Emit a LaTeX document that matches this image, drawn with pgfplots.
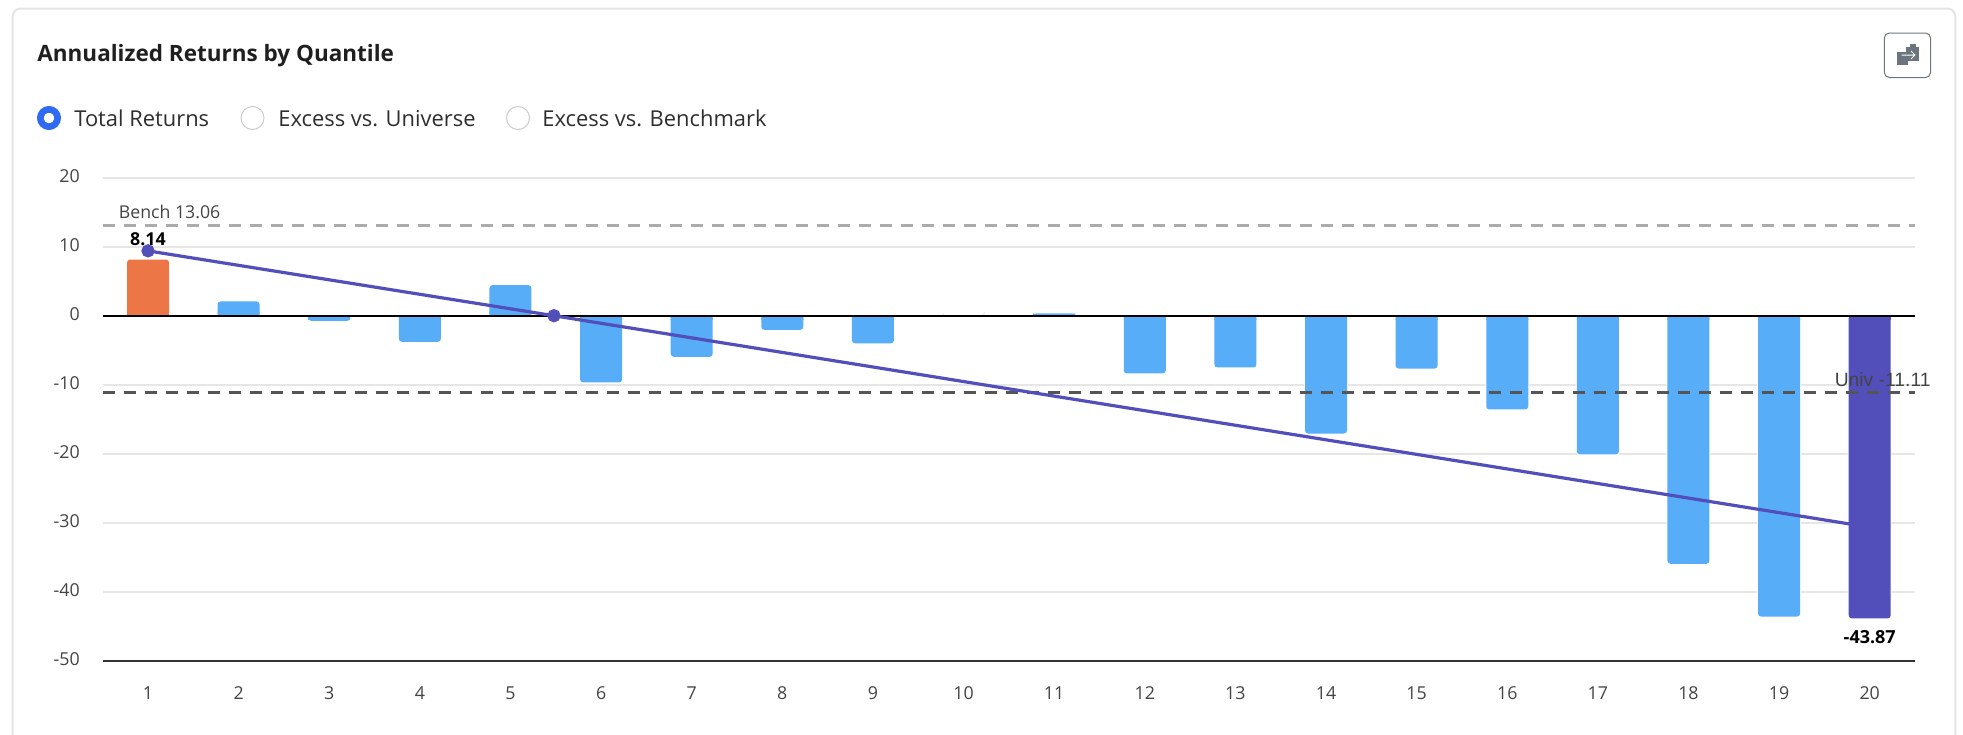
\documentclass[border=0pt]{standalone}
\usepackage{fontspec}
\setmainfont{Open Sans}
\newfontfamily\arialfont{Liberation Sans}
\usepackage{pgfplots}
\usepackage{pgfplotstable}
\pgfplotsset{compat=1.18}

\definecolor{barblue}{HTML}{57ADF8}
\definecolor{barorange}{HTML}{ED7647}
\definecolor{barpurple}{HTML}{524FBB}
\definecolor{gridgray}{HTML}{E6E6E6}
\definecolor{benchgray}{HTML}{ABABAB}
\definecolor{univgray}{HTML}{555555}
\definecolor{labelgray}{HTML}{444444}
\definecolor{cardgray}{HTML}{E4E4E4}
\definecolor{radiogray}{HTML}{CCCCCC}
\definecolor{radioblue}{HTML}{2F6BF2}
\definecolor{btngray}{HTML}{6C757D}

\pgfplotstableread{
q ret
1 8.14
}\firstbar
\pgfplotstableread{
q ret
2 2.07
3 -0.74
4 -3.78
5 4.43
6 -9.67
7 -5.95
8 -2.04
9 -4.00
10 0
11 0.30
12 -8.37
13 -7.50
14 -17.07
15 -7.65
16 -13.58
17 -20.10
18 -35.95
19 -43.60
}\midbars
\pgfplotstableread{
q ret
20 -43.87
}\lastbar

% rounded outer end; a short square stub squares it off at the zero line
\pgfplotsset{
  retbar/.style={ybar, bar shift=0pt, bar width=21pt, draw=none, fill=#1,
    rounded corners=1.5pt, preaction={draw=white, line width=1pt}},
  retbase/.style={ybar, bar shift=0pt, bar width=21pt, draw=none, fill=#1},
}
\newcommand{\stub}{min(abs(\thisrow{ret}),0.6)*sign(\thisrow{ret})}

\begin{document}
\begin{tikzpicture}[x=0.5pt, y=-0.5pt]
\path[use as bounding box] (0,0) rectangle (1963,734);

% card
\draw[cardgray, line width=1pt, rounded corners=4pt] (12.7,740) -- (12.7,8.5) -- (1955.3,8.5) -- (1955.3,740);

% title and radios
\node[anchor=base west, inner sep=0pt, text=black!88] at (37,61) {\fontsize{11.25pt}{13pt}\selectfont\bfseries Annualized Returns by Quantile};
\draw[radioblue, line width=3.4pt] (49,118) circle (8.6);
\fill[white] (49,118) circle (5);
\node[anchor=base west, inner sep=0pt, text=black!82] at (74,126.5) {\fontsize{10.95pt}{13pt}\selectfont Total Returns};
\draw[radiogray, line width=0.5pt] (252.5,118) circle (11.5);
\node[anchor=base west, inner sep=0pt, text=black!82] at (278,126.5) {\fontsize{10.95pt}{13pt}\selectfont Excess vs. Universe};
\draw[radiogray, line width=0.5pt] (518,118) circle (11.5);
\node[anchor=base west, inner sep=0pt, text=black!82] at (542,126.5) {\fontsize{10.95pt}{13pt}\selectfont Excess vs. Benchmark};

% copy button
\draw[btngray, line width=0.5pt, rounded corners=2.5pt] (1884.3,33) rectangle (1930.5,77.5);
\fill[btngray] (1897.3,51.7) rectangle (1908,65);
\fill[btngray] (1905.7,47) rectangle (1919,60.7);
\fill[btngray] (1910,44) rectangle (1916,48);
\draw[white, line width=0.5pt] (1901.7,55) -- (1915,55) (1911,51) -- (1915,55) -- (1911,59);

\begin{axis}[
    at={(51.35pt,-330.35pt)},
    anchor=south west,
    scale only axis,
    width=906.15pt,
    height=241.5pt,
    xmin=0.5, xmax=20.5,
    ymin=-50, ymax=20,
    clip=false,
    axis x line=bottom,
    axis y line=left,
    axis line style={-},
    y axis line style={draw=none},
    x axis line style={draw=black!80, line width=1pt},
    tick style={draw=none},
    ymajorgrids,
    grid style={gridgray, line width=1pt},
    xtick={1,...,20},
    xticklabels={1,2,3,4,5,6,7,8,9,10,11,12,13,14,15,16,17,18,19,20},
    ytick={-50,-40,-30,-20,-10,0,10,20},
    yticklabels={-50,-40,-30,-20,-10,0,10,20},
    tick label style={font=\fontsize{8.9pt}{10pt}\selectfont, text=labelgray},
    x tick label style={yshift=-7.3pt},
    y tick label style={xshift=-5.8pt, yshift=1pt},
]

\addplot[retbar=barorange] table[x=q, y=ret] {\firstbar};
\addplot[retbase=barorange] table[x=q, y expr=\stub] {\firstbar};
\addplot[retbar=barblue] table[x=q, y=ret] {\midbars};
\addplot[retbase=barblue] table[x=q, y expr=\stub] {\midbars};
\addplot[retbar=barpurple] table[x=q, y=ret] {\lastbar};
\addplot[retbase=barpurple] table[x=q, y expr=\stub] {\lastbar};

% zero line
\addplot[black, line width=1pt] coordinates {(0.5,0) (20.5,0)};

% benchmark and universe
\addplot[benchgray, line width=1.6pt, dash pattern=on 6pt off 4.5pt] coordinates {(0.5,13.06) (20.5,13.06)};
\addplot[univgray, line width=1.6pt, dash pattern=on 6pt off 4.5pt] coordinates {(0.5,-11.11) (20.5,-11.11)};

% trend line
\addplot[barpurple, line width=1.6pt, mark=*, mark size=2.5pt, mark options={fill=barpurple, draw=none}]
    coordinates {(1,9.40) (5.48,0) (20,-30.65)};

\node[anchor=west, inner sep=0pt, text=labelgray] at (axis cs:0.675,15.05) {\fontsize{8.85pt}{10pt}\selectfont Bench 13.06};
\node[anchor=west, inner sep=0pt, text=labelgray] at (axis cs:19.61,-9.2) {\arialfont\fontsize{9.65pt}{10pt}\selectfont Univ -11.11};
\node[inner sep=0pt, text=black] at (axis cs:1,11.06) {\fontsize{8.9pt}{10pt}\selectfont\bfseries 8.14};
\node[inner sep=0pt, text=black] at (axis cs:20,-46.6) {\fontsize{9pt}{10pt}\selectfont\bfseries -43.87};

\end{axis}
\end{tikzpicture}
\end{document}
